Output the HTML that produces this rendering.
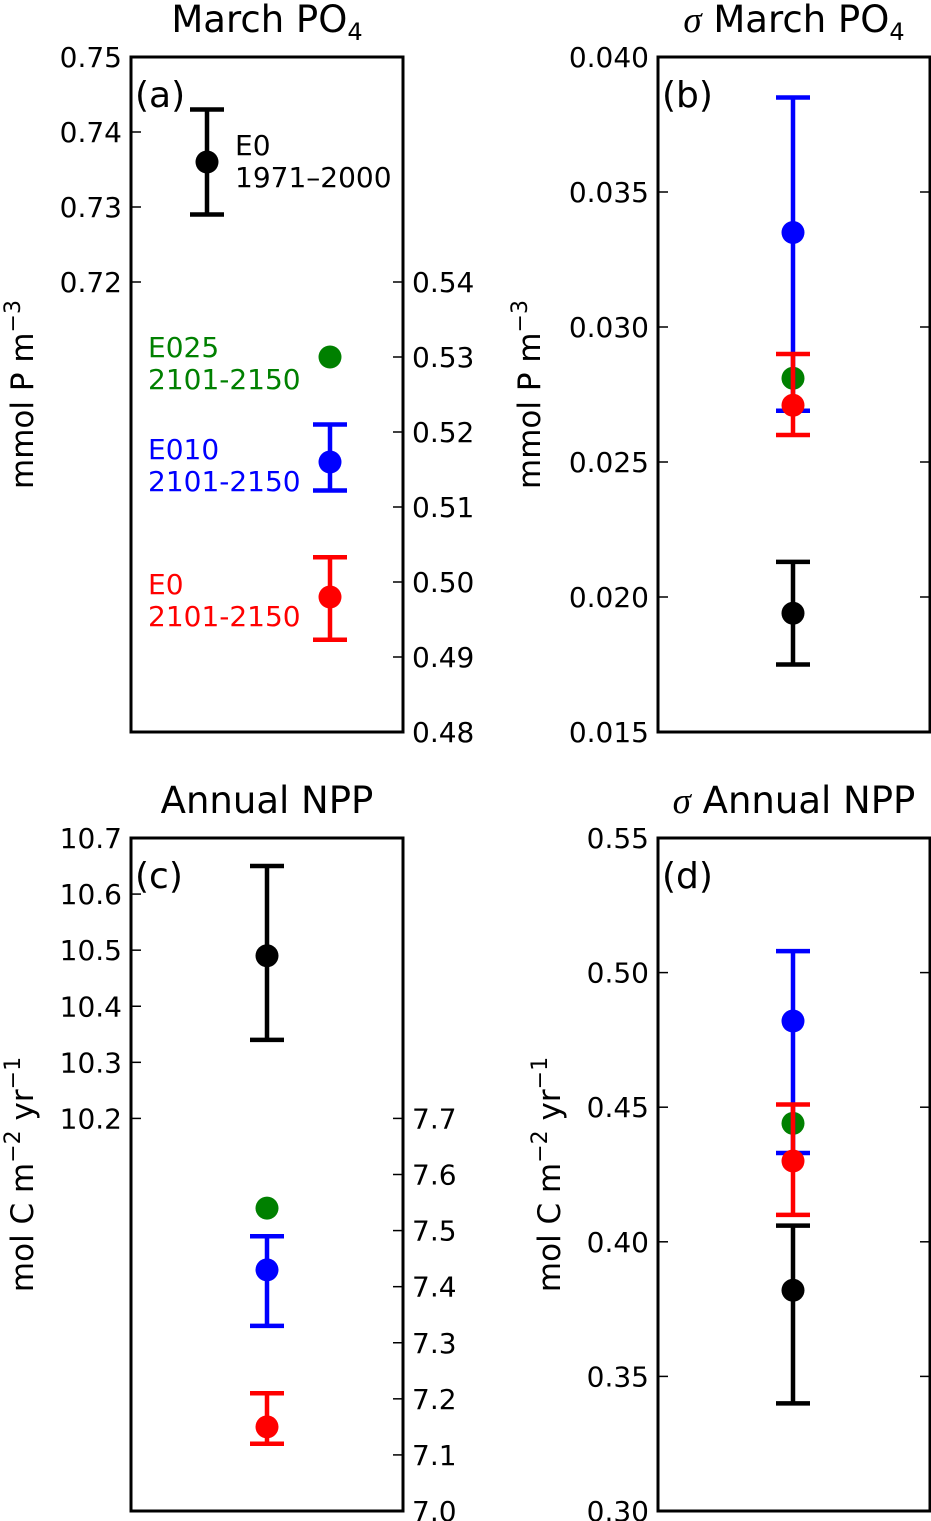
<!DOCTYPE html>
<html><head><meta charset="utf-8"><style>
body{margin:0;background:#fff}
svg{display:block;font-family:"DejaVu Sans","Liberation Sans",sans-serif}
</style></head><body>
<svg id="chart" width="931" height="1521" viewBox="0 0 931 1521" xmlns="http://www.w3.org/2000/svg"></svg>
<script>
// Panel (a) March PO4
const aLeftTicks=[0.72,0.73,0.74,0.75];
const aRightTicks=[0.48,0.49,0.50,0.51,0.52,0.53,0.54];
const aSeries=['E0 1971-2000','E025 2101-2150','E010 2101-2150','E0 2101-2150'];
const aValues=[0.736,0.530,0.516,0.498];
const aLow=[0.729,null,0.5122,0.4923];
const aHigh=[0.743,null,0.521,0.5033];
// Panel (b) sigma March PO4
const bTicks=[0.015,0.020,0.025,0.030,0.035,0.040];
const bValues=[0.0194,0.0281,0.0335,0.0271];
const bLow=[0.0175,null,0.0269,0.026];
const bHigh=[0.0213,null,0.0385,0.029];
// Panel (c) Annual NPP
const cLeftTicks=[10.2,10.3,10.4,10.5,10.6,10.7];
const cRightTicks=[7.0,7.1,7.2,7.3,7.4,7.5,7.6,7.7];
const cValues=[10.49,7.54,7.43,7.15];
const cLow=[10.34,null,7.33,7.12];
const cHigh=[10.65,null,7.49,7.21];
// Panel (d) sigma Annual NPP
const dTicks=[0.30,0.35,0.40,0.45,0.50,0.55];
const dValues=[0.382,0.444,0.482,0.430];
const dLow=[0.340,null,0.433,0.410];
const dHigh=[0.406,null,0.508,0.451];

const colors=['#000','#008000','#0000ff','#ff0000'];
const NS='http://www.w3.org/2000/svg';
const svg=document.getElementById('chart');
function el(tag,attrs,parent,text){const e=document.createElementNS(NS,tag);for(const k in attrs)e.setAttribute(k,attrs[k]);if(text!==undefined)e.textContent=text;(parent||svg).appendChild(e);return e;}
function scale(d0,d1,r0,r1){return v=>r0+(v-d0)/(d1-d0)*(r1-r0);}

function panel(cfg){
  const g=el('g',{});
  
  
  const {x0,x1,y0,y1}=cfg;
  const t=el('text',{x:(x0+x1)/2,y:y0-25,'text-anchor':'middle','font-size':37},g);
  t.innerHTML=cfg.title;
  
  
  const yl=el('text',{transform:`translate(${cfg.ylx},${(y0+y1)/2}) rotate(-90)`,'text-anchor':'middle','font-size':31},g);
  yl.innerHTML=cfg.ylabel;
  
  
  const L=scale(cfg.lmin,cfg.lmax,y1,y0);
  cfg.lticks.forEach(v=>{
    const y=L(v);
    el('line',{x1:x0,x2:x0+10,y1:y,y2:y,stroke:'#000','stroke-width':1.5},g);
    if(!cfg.rticks) el('line',{x1:x1-10,x2:x1,y1:y,y2:y,stroke:'#000','stroke-width':1.5},g);
    const tx=el('text',{x:x0-9,y:y+10,'text-anchor':'end','font-size':28},g,v.toFixed(cfg.ldec));
    
    
  });
  let R=null;
  if(cfg.rticks){
    R=scale(cfg.rmin,cfg.rmax,y1,y0);
    cfg.rticks.forEach(v=>{
      const y=R(v);
      el('line',{x1:x1-10,x2:x1,y1:y,y2:y,stroke:'#000','stroke-width':1.5},g);
      const tx=el('text',{x:x1+9,y:y+10,'text-anchor':'start','font-size':28},g,v.toFixed(cfg.rdec));
      
      
    });
  }
  const fr=el('rect',{x:x0,y:y0,width:x1-x0,height:y1-y0,fill:'none',stroke:'#000','stroke-width':3},g);
  
  
  const lab=el('text',{x:x0+4,y:y0+50,'font-size':36},g,cfg.letter);
  
  
  cfg.values.forEach((v,i)=>{
    const sc=(i===0||!R)?L:R;
    const x=cfg.xs[i];
    const c=colors[i];
    if(cfg.low[i]!==null){
      const yl=sc(cfg.low[i]),yh=sc(cfg.high[i]);
      const eb=el('g',{stroke:c,'stroke-width':4.5},g);
      
      
      el('line',{x1:x,x2:x,y1:yl,y2:yh},eb);
      el('line',{x1:x-17,x2:x+17,y1:yl,y2:yl},eb);
      el('line',{x1:x-17,x2:x+17,y1:yh,y2:yh},eb);
    }
    const p=el('circle',{cx:x,cy:sc(v),r:11.5,fill:c},g);
    
    
  });
  return g;
}
panel({name:'panel-a',x0:131,x1:403,y0:57,y1:732,title:'March PO<tspan font-size="24" dy="8">4</tspan>',
  ylabel:'mmol P m<tspan font-size="22" dy="-13">−3</tspan>',ylx:33,lmin:0.66,lmax:0.75,lticks:aLeftTicks,ldec:2,
  rmin:0.48,rmax:0.57,rticks:aRightTicks,rdec:2,letter:'(a)',values:aValues,low:aLow,high:aHigh,xs:[207,330,330,330]});
panel({name:'panel-b',x0:658,x1:930,y0:57,y1:732,title:'<tspan font-style="italic" font-family="Liberation Serif">σ</tspan> March PO<tspan font-size="24" dy="8">4</tspan>',
  ylabel:'mmol P m<tspan font-size="22" dy="-13">−3</tspan>',ylx:540,lmin:0.015,lmax:0.040,lticks:bTicks,ldec:3,
  letter:'(b)',values:bValues,low:bLow,high:bHigh,xs:[793,793,793,793]});
panel({name:'panel-c',x0:131,x1:403,y0:838,y1:1511,title:'Annual NPP',
  ylabel:'mol C m<tspan font-size="22" dy="-13">−2</tspan><tspan dy="13"> yr</tspan><tspan font-size="22" dy="-13">−1</tspan>',ylx:33,lmin:9.5,lmax:10.7,lticks:cLeftTicks,ldec:1,
  rmin:7.0,rmax:8.2,rticks:cRightTicks,rdec:1,letter:'(c)',values:cValues,low:cLow,high:cHigh,xs:[267,267,267,267]});
panel({name:'panel-d',x0:658,x1:930,y0:838,y1:1511,title:'<tspan font-style="italic" font-family="Liberation Serif">σ</tspan> Annual NPP',
  ylabel:'mol C m<tspan font-size="22" dy="-13">−2</tspan><tspan dy="13"> yr</tspan><tspan font-size="22" dy="-13">−1</tspan>',ylx:560,lmin:0.30,lmax:0.55,lticks:dTicks,ldec:2,
  letter:'(d)',values:dValues,low:dLow,high:dHigh,xs:[793,793,793,793]});
// Annotations in panel (a)
const ann=[['E0','1971–2000',235,155,'#000'],['E025','2101-2150',148,357,'#008000'],['E010','2101-2150',148,459,'#0000ff'],['E0','2101-2150',148,594,'#ff0000']];
ann.forEach(a=>{
  const t=el('text',{x:a[2],y:a[3],'font-size':28,fill:a[4]});
  
  
  el('tspan',{x:a[2],dy:0},t,a[0]);
  el('tspan',{x:a[2],dy:32},t,a[1]);
});
</script>
</body></html>
